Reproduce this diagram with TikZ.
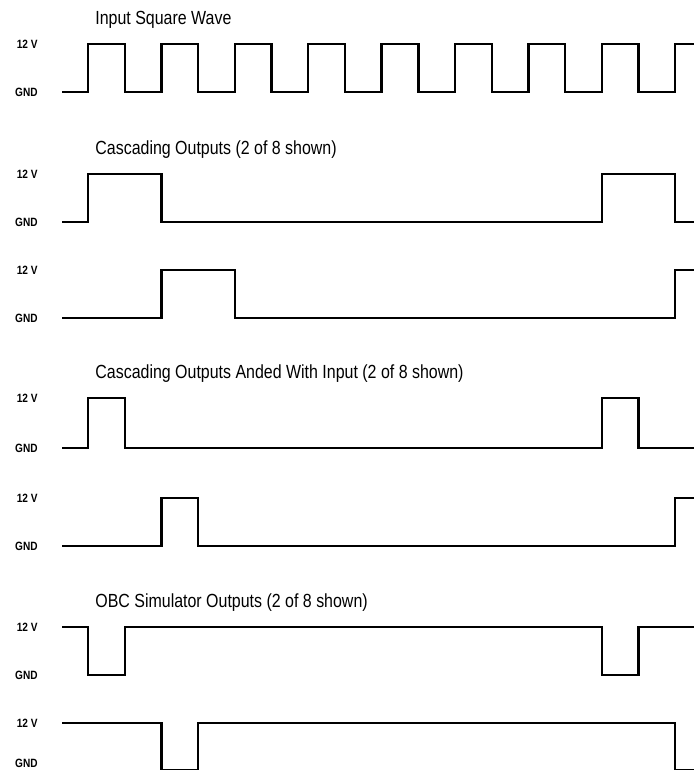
\documentclass[tikz,border=0pt]{standalone}
\usepackage{fontspec}
\setmainfont{Liberation Sans}[FakeStretch=0.84]
\usepackage{tikz}
\usetikzlibrary{positioning}

\begin{document}
\begin{tikzpicture}[x=0.5pt,y=-0.5pt,
  wave/.style={line width=1.2pt},
  title/.style={anchor=west,inner sep=0pt,font=\fontsize{9.5}{11}\selectfont},
  level/.style={anchor=east,inner sep=0pt,font=\bfseries\fontsize{6}{7}\selectfont}]
\useasboundingbox (0,0) rectangle (694,770);

% titles
\node[title,name=tin]  at (95,20)  {Input Square Wave};
\node[title,name=tcas] at (95,150) {Cascading Outputs (2 of 8 shown)};
\node[title,name=tand] at (95,374) {Cascading Outputs Anded With Input (2 of 8 shown)};
\node[title,name=tobc] at (95,603) {OBC Simulator Outputs (2 of 8 shown)};

% level labels
\foreach \hi/\lo/\n in {44/92/in,174/222/ca,270/318/cb,398/448/aa,498/546/ab,627/675/oa,723/763/ob}{
  \node[level,name=hi\n] at (38,\hi) {12 V};
  \node[level,name=lo\n] at (38,\lo) {GND};
}

% input square wave
\draw[wave] (62,92) foreach \k in {0,...,7}{
   -| ({88+73.4*\k},44) -| ({124.7+73.4*\k},92) } -| (675.2,44) -- (694,44);

% cascading outputs
\draw[wave] (62,222) -| (88,174) -| (161.4,222) -| (601.8,174) -| (675.2,222) -- (694,222);
\draw[wave] (62,318) -| (161.4,270) -| (234.8,318) -| (675.2,270) -- (694,270);

% anded with input
\draw[wave] (62,448) -| (88,398) -| (124.7,448) -| (601.8,398) -| (638.5,448) -- (694,448);
\draw[wave] (62,546) -| (161.4,498) -| (198.1,546) -| (675.2,498) -- (694,498);

% obc simulator
\draw[wave] (62,627) -| (88,675) -| (124.7,627) -| (601.8,675) -| (638.5,627) -- (694,627);
\draw[wave] (62,723) -| (161.4,770) -| (198.1,723) -| (675.2,770) -- (694,770);
\end{tikzpicture}
\end{document}
